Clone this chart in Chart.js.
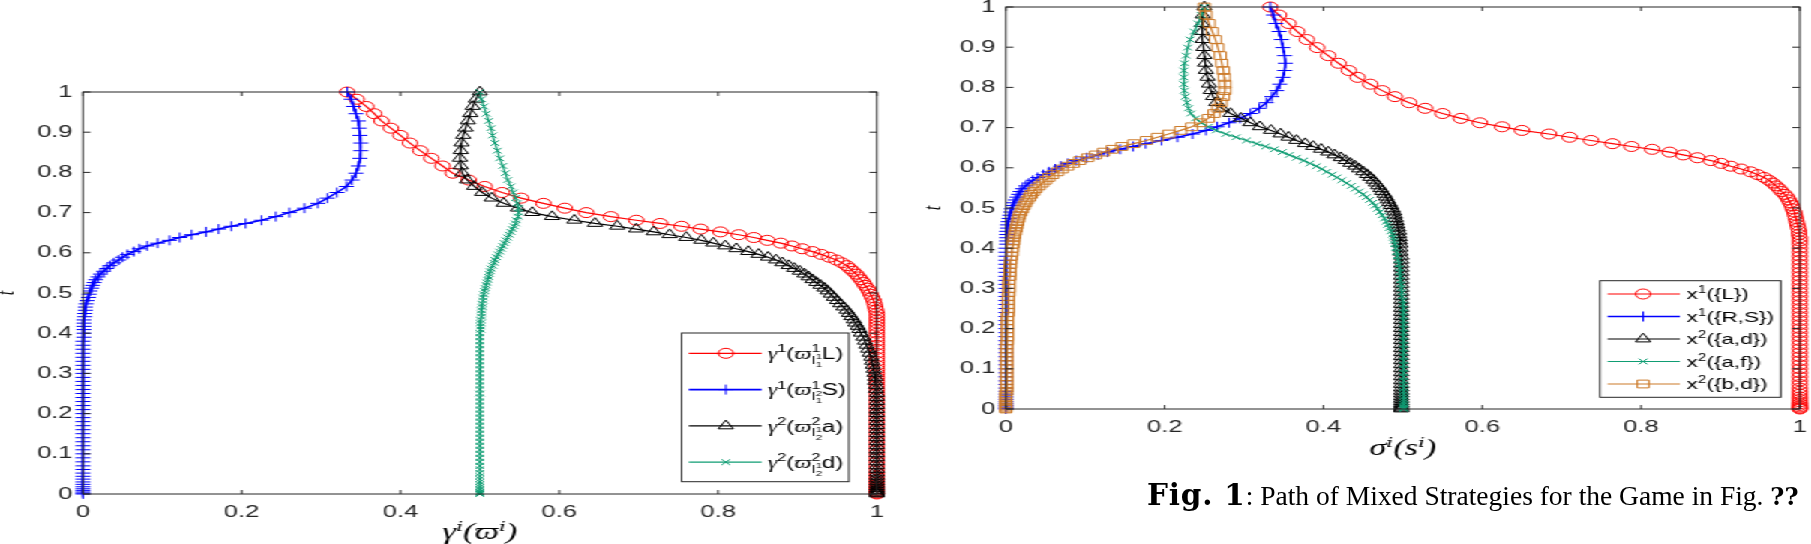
<!DOCTYPE html>
<html>
<head>
<meta charset="utf-8">
<script src="https://cdn.jsdelivr.net/npm/chart.js@4.4.1/dist/chart.umd.min.js"></script>
<style>
  html, body { margin: 0; padding: 0; background: #fff; }
  #page { position: relative; width: 1811px; height: 544px; overflow: hidden; }
  /* the figure panels are stretched horizontally in the original */
  #stretch { position: absolute; left: 0; top: 0; width: 1208px; height: 544px; transform: scaleX(1.5); transform-origin: 0 0; }
  #leftBox { position: absolute; left: 0; top: 80px; width: 600px; height: 464px; }
  #rightBox { position: absolute; left: 615px; top: 0; width: 592px; height: 470px; }
  #caption { position: absolute; left: 1147px; top: 478px; font-family: "Liberation Serif", serif; font-size: 27.5px; line-height: 34px; white-space: nowrap; color: #000; }
  #caption b { font-family: "DejaVu Serif", serif; }
  #caption b.fig { font-size: 29.5px; letter-spacing: 0.8px; }
  #caption b.qq { font-size: 24px; }
</style>
</head>
<body>
<div id="page">
  <div id="stretch">
    <div id="leftBox"><canvas id="leftChart"></canvas></div>
    <div id="rightBox"><canvas id="rightChart"></canvas></div>
  </div>
  <div id="caption"><b class="fig">Fig. 1</b>: Path of Mixed Strategies for the Game in Fig. <b class="qq">??</b></div>
</div>
<script>
// ---- left panel: t values shared by all four paths ----
var tLeft = [
  1.000, 0.982, 0.964, 0.946, 0.928, 0.910, 0.892, 0.873, 0.854, 0.835, 0.816, 0.798, 0.781, 0.765, 0.750, 0.736, 0.723, 0.711, 0.700, 0.690, 0.681, 0.673,
  0.666, 0.659, 0.652, 0.645, 0.638, 0.631, 0.624, 0.617, 0.610, 0.603, 0.596, 0.589, 0.582, 0.575, 0.568, 0.561, 0.554, 0.547, 0.540, 0.533, 0.526, 0.519, 0.512, 0.505,
  0.497, 0.489, 0.481, 0.473, 0.465, 0.457, 0.449, 0.441, 0.433, 0.425, 0.417, 0.409,
  0.40, 0.39, 0.38, 0.37, 0.36, 0.35, 0.34, 0.33, 0.32, 0.31, 0.30,
  0.29, 0.28, 0.27, 0.26, 0.25, 0.24, 0.23, 0.22, 0.21, 0.20, 0.19,
  0.18, 0.17, 0.16, 0.15, 0.14, 0.13, 0.12, 0.11, 0.10, 0.09, 0.08,
  0.070, 0.061, 0.052, 0.044, 0.037, 0.030, 0.024, 0.018, 0.013, 0.009, 0.005, 0.002, 0.000
];
var gammaL = [
  .333, .345, .357, .367, .376, .388, .400, .412, .425, .439, .453, .466, .486, .506, .528, .552, .580, .607, .634, .665, .697, .727,
  .754, .778, .803, .826, .845, .862, .879, .893, .906, .919, .930, .940, .949, .956, .962, .966, .970, .974, .977, .980, .983, .985, .988, .990,
  .992, .994, .996, .997, .998, .999, 1, 1, 1, 1, 1, 1,
  1, 1, 1, 1, 1, 1, 1, 1, 1, 1, 1,
  1, 1, 1, 1, 1, 1, 1, 1, 1, 1, 1,
  1, 1, 1, 1, 1, 1, 1, 1, 1, 1, 1,
  1, 1, 1, 1, 1, 1, 1, 1, 1, 1, 1, 1, 1
];
var gammaS = [
  .333, .338, .341, .344, .347, .348, .349, .350, .350, .349, .347, .344, .339, .332, .320, .308, .296, .279, .260, .243, .225, .205,
  .187, .171, .155, .137, .122, .109, .094, .081, .071, .064, .056, .050, .045, .039, .034, .030, .026, .022, .019, .016, .014, .012, .011, .009,
  .008, .007, .005, .004, .003, .003, .002, .002, .001, .001, .001, .001,
  .001, .001, 0, 0, 0, 0, 0, 0, 0, 0, 0,
  0, 0, 0, 0, 0, 0, 0, 0, 0, 0, 0,
  0, 0, 0, 0, 0, 0, 0, 0, 0, 0, 0,
  0, 0, 0, 0, 0, 0, 0, 0, 0, 0, 0, 0, 0
];
var gammaA = [
  .500, .495, .491, .488, .485, .482, .479, .477, .476, .475, .476, .478, .484, .493, .503, .515, .530, .548, .566, .591, .619, .645,
  .673, .697, .719, .739, .760, .779, .794, .809, .823, .838, .851, .863, .873, .881, .889, .896, .903, .909, .914, .919, .924, .929, .934, .938,
  .942, .946, .950, .954, .958, .962, .965, .968, .971, .973, .976, .978,
  .980, .983, .985, .987, .989, .991, .993, .994, .995, .996, .997,
  .998, .998, .999, .999, 1, 1, 1, 1, 1, 1, 1,
  1, 1, 1, 1, 1, 1, 1, 1, 1, 1, 1,
  1, 1, 1, 1, 1, 1, 1, 1, 1, 1, 1, 1, 1
];
var gammaD = [
  .500, .502, .505, .508, .511, .514, .516, .519, .522, .525, .529, .532, .535, .539, .542, .545, .547, .549, .549, .548, .546, .545,
  .543, .541, .539, .537, .535, .533, .531, .529, .527, .525, .523, .521, .519, .518, .516, .514, .513, .512, .511, .510, .509, .508, .507, .506,
  .505, .504, .504, .503, .503, .502, .502, .502, .501, .501, .501, .501,
  .5, .5, .5, .5, .5, .5, .5, .5, .5, .5, .5,
  .5, .5, .5, .5, .5, .5, .5, .5, .5, .5, .5,
  .5, .5, .5, .5, .5, .5, .5, .5, .5, .5, .5,
  .5, .5, .5, .5, .5, .5, .5, .5, .5, .5, .5, .5, .5
];

// ---- right panel ----
var tRight = [
  1.000, 0.980, 0.959, 0.939, 0.919, 0.899, 0.879, 0.860, 0.842, 0.825, 0.808, 0.792, 0.777, 0.762, 0.748, 0.735, 0.723, 0.712, 0.702, 0.693, 0.684,
  0.676, 0.668, 0.660, 0.653, 0.646, 0.639, 0.632, 0.625, 0.618, 0.611, 0.604, 0.597, 0.590, 0.583, 0.576, 0.569, 0.562, 0.555, 0.548, 0.541, 0.534, 0.527, 0.520, 0.513, 0.506,
  0.498, 0.490, 0.482, 0.474, 0.466, 0.458, 0.450, 0.442, 0.434, 0.426, 0.418, 0.410,
  0.40, 0.39, 0.38, 0.37, 0.36, 0.35, 0.34, 0.33, 0.32, 0.31, 0.30,
  0.29, 0.28, 0.27, 0.26, 0.25, 0.24, 0.23, 0.22, 0.21, 0.20, 0.19,
  0.18, 0.17, 0.16, 0.15, 0.14, 0.13, 0.12, 0.11, 0.10, 0.09, 0.08,
  0.070, 0.061, 0.052, 0.044, 0.037, 0.030, 0.024, 0.018, 0.013, 0.009, 0.005, 0.002, 0.000
];
var xL = [
  .333, .344, .356, .367, .379, .392, .406, .419, .432, .443, .459, .474, .490, .508, .528, .550, .573, .597, .625, .650, .684,
  .710, .737, .764, .788, .814, .836, .853, .871, .888, .901, .913, .926, .938, .947, .955, .961, .966, .970, .974, .977, .981, .984, .986, .988, .990,
  .991, .993, .994, .995, .996, .997, .998, .999, .999, 1, 1, 1,
  1, 1, 1, 1, 1, 1, 1, 1, 1, 1, 1,
  1, 1, 1, 1, 1, 1, 1, 1, 1, 1, 1,
  1, 1, 1, 1, 1, 1, 1, 1, 1, 1, 1,
  1, 1, 1, 1, 1, 1, 1, 1, 1, 1, 1, 1, 1
];
var xRS = [
  .333, .337, .340, .344, .347, .349, .351, .352, .351, .349, .345, .341, .335, .328, .319, .308, .295, .281, .266, .252, .235,
  .216, .196, .176, .160, .144, .128, .116, .102, .089, .078, .069, .062, .054, .047, .040, .034, .029, .025, .021, .018, .016, .014, .012, .010, .009,
  .007, .006, .005, .004, .003, .002, .002, .001, .001, .001, .001, .001,
  0, 0, 0, 0, 0, 0, 0, 0, 0, 0, 0,
  0, 0, 0, 0, 0, 0, 0, 0, 0, 0, 0,
  0, 0, 0, 0, 0, 0, 0, 0, 0, 0, 0,
  0, 0, 0, 0, 0, 0, 0, 0, 0, 0, 0, 0, 0
];
var xAD = [
  .250, .248, .247, .247, .248, .249, .250, .251, .252, .254, .256, .258, .261, .265, .272, .283, .296, .308, .320, .334, .346,
  .356, .366, .377, .387, .397, .406, .414, .422, .428, .434, .440, .445, .450, .455, .459, .463, .466, .469, .472, .474, .477, .479, .481, .483, .485,
  .487, .489, .490, .491, .492, .493, .494, .495, .495, .496, .496, .497,
  .497, .497, .498, .498, .498, .498, .498, .498, .498, .498, .498,
  .498, .498, .498, .498, .498, .498, .498, .498, .498, .498, .498,
  .498, .498, .498, .498, .498, .498, .498, .498, .498, .498, .498,
  .498, .498, .498, .498, .498, .498, .498, .498, .498, .498, .498, .498, .498
];
var xAF = [
  .250, .246, .242, .237, .232, .229, .227, .225, .224, .224, .224, .225, .226, .228, .230, .233, .239, .246, .255, .265, .277,
  .290, .303, .316, .327, .338, .348, .357, .366, .375, .383, .391, .398, .404, .411, .417, .423, .429, .435, .440, .445, .450, .454, .458, .462, .465,
  .468, .471, .474, .477, .479, .481, .483, .485, .487, .488, .489, .490,
  .491, .492, .493, .494, .495, .496, .496, .497, .497, .498, .498,
  .499, .499, .500, .500, .501, .501, .501, .501, .501, .501, .501,
  .501, .501, .501, .501, .501, .501, .501, .501, .501, .501, .501,
  .501, .501, .501, .501, .501, .501, .501, .501, .501, .501, .501, .501, .501
];
var xBD = [
  .250, .252, .256, .260, .264, .267, .270, .272, .274, .275, .276, .276, .274, .271, .267, .262, .255, .245, .234, .220, .205,
  .191, .177, .161, .146, .134, .123, .113, .103, .093, .085, .078, .071, .065, .059, .054, .050, .046, .042, .038, .035, .032, .030, .027, .025, .023,
  .021, .019, .017, .016, .015, .014, .013, .012, .011, .010, .010, .009,
  .008, .008, .007, .006, .006, .005, .005, .005, .004, .004, .004,
  .004, .003, .003, .003, .003, .003, .002, .002, .002, .002, .002,
  .002, .002, .001, .001, .001, .001, .001, .001, .001, .001, .001,
  .001, .001, .001, .001, 0, 0, 0, 0, 0, 0, 0, 0, 0
];

var leftLabels = ["γ^{1}(ϖ^{1}_{I^{1}_{1}}L)", "γ^{1}(ϖ^{1}_{I^{2}_{1}}S)", "γ^{2}(ϖ^{2}_{I^{1}_{2}}a)", "γ^{2}(ϖ^{2}_{I^{1}_{2}}d)"];
var rightLabels = ["x^{1}({L})", "x^{1}({R,S})", "x^{2}({a,d})", "x^{2}({a,f})", "x^{2}({b,d})"];

var SANS = '"Liberation Sans", Arial, sans-serif';
var MATH = '"Liberation Serif", "DejaVu Serif", serif';
var AXIS = "#262626";

function series(label, xs, ts, color, style, r, order, lw) {
  return {
    label: label,
    data: ts.map(function (t, i) { return { x: xs[i], y: t }; }),
    showLine: true,
    borderColor: color,
    borderWidth: lw || 1.2,
    backgroundColor: "rgba(0,0,0,0)",
    pointStyle: style,
    pointRadius: r,
    pointBorderColor: color,
    pointBackgroundColor: "rgba(0,0,0,0)",
    pointBorderWidth: 1,
    clip: false,
    order: order,
  };
}

// tiny parser for x^{..}_{..} labels
function parseTex(s) {
  var out = [];
  var i = 0;
  while (i < s.length) {
    var c = s[i];
    if ((c === "^" || c === "_") && s[i + 1] === "{") {
      var depth = 0, j = i + 1;
      for (; j < s.length; j++) {
        if (s[j] === "{") depth++;
        else if (s[j] === "}" && --depth === 0) break;
      }
      if (!out.length) out.push({ ch: "" });
      out[out.length - 1][c === "^" ? "sup" : "sub"] = parseTex(s.slice(i + 2, j));
      i = j + 1;
    } else {
      out.push({ ch: c });
      i++;
    }
  }
  return out;
}

function drawTex(ctx, items, x, y, size) {
  items.forEach(function (it) {
    ctx.font = /[\u0370-\u03FF]/.test(it.ch) ? "italic " + size + "px " + MATH : size + "px " + SANS;
    ctx.fillText(it.ch, x, y);
    x += ctx.measureText(it.ch).width;
    var w = 0;
    if (it.sup) w = Math.max(w, drawTex(ctx, it.sup, x, y - size * 0.42, size * 0.68) - x);
    if (it.sub) w = Math.max(w, drawTex(ctx, it.sub, x, y + size * 0.3, size * 0.68) - x);
    x += w;
  });
  return x;
}

// box round the plot with inward ticks on all four sides
var axisBox = {
  id: "axisBox",
  afterDatasetsDraw: function (chart) {
    var ctx = chart.ctx, a = chart.chartArea, sx = chart.scales.x, sy = chart.scales.y;
    ctx.save();
    ctx.strokeStyle = AXIS;
    ctx.lineWidth = 1;
    ctx.strokeRect(a.left, a.top, a.right - a.left, a.bottom - a.top);
    ctx.beginPath();
    sx.ticks.forEach(function (t) {
      var px = sx.getPixelForValue(t.value);
      ctx.moveTo(px, a.bottom); ctx.lineTo(px, a.bottom - 4);
      ctx.moveTo(px, a.top); ctx.lineTo(px, a.top + 4);
    });
    sy.ticks.forEach(function (t) {
      var py = sy.getPixelForValue(t.value);
      ctx.moveTo(a.left, py); ctx.lineTo(a.left + 5, py);
      ctx.moveTo(a.right, py); ctx.lineTo(a.right - 5, py);
    });
    ctx.stroke();
    ctx.restore();
  },
};

function texLegend(cfg) {
  return {
    id: "texLegend",
    afterDraw: function (chart) {
      var ctx = chart.ctx, a = chart.chartArea;
      var bx = a.right - cfg.right - cfg.width, by = a.bottom - cfg.bottom - cfg.height;
      ctx.save();
      ctx.fillStyle = "#fff";
      ctx.fillRect(bx, by, cfg.width, cfg.height);
      ctx.strokeStyle = AXIS;
      ctx.lineWidth = 1;
      ctx.strokeRect(bx, by, cfg.width, cfg.height);
      ctx.textAlign = "left";
      ctx.textBaseline = "alphabetic";
      chart.data.datasets.forEach(function (d, i) {
        var y = by + cfg.first + i * cfg.step;
        ctx.strokeStyle = d.borderColor;
        ctx.lineWidth = d.borderWidth;
        ctx.beginPath();
        ctx.moveTo(bx + cfg.lineFrom, y);
        ctx.lineTo(bx + cfg.lineTo, y);
        ctx.stroke();
        ctx.fillStyle = "rgba(0,0,0,0)";
        ctx.strokeStyle = d.pointBorderColor;
        ctx.lineWidth = 1;
        Chart.helpers.drawPoint(ctx, { pointStyle: d.pointStyle, radius: d.pointRadius, rotation: 0, borderWidth: 1 }, bx + cfg.marker, y);
        ctx.fillStyle = "#000";
        drawTex(ctx, parseTex(cfg.labels[i]), bx + cfg.text, y + cfg.size * 0.36, cfg.size);
      });
      ctx.restore();
    },
  };
}

function tickText(v) {
  return String(Math.round(v * 10) / 10);
}

function buildChart(id, o) {
  return new Chart(document.getElementById(id), {
    type: "scatter",
    data: { datasets: o.datasets },
    options: {
      responsive: true,
      maintainAspectRatio: false,
      animation: false,
      layout: { padding: o.padding },
      plugins: { legend: { display: false }, tooltip: { enabled: false } },
      scales: {
        x: {
          type: "linear", min: 0, max: 1,
          ticks: { stepSize: 0.2, padding: 8, maxRotation: 0, color: AXIS, font: { family: SANS, size: 17 }, callback: tickText },
          grid: { display: false, drawTicks: false },
          border: { display: false },
          title: { display: true, text: o.xTitle, color: "#000", font: { family: MATH, style: "italic", size: 23, lineHeight: 1 }, padding: { top: 0, bottom: o.xTitlePad } },
          afterFit: function (s) { s.height = o.xAxisHeight; s.paddingLeft = 0; s.paddingRight = 0; },
        },
        y: {
          type: "linear", min: 0, max: 1,
          ticks: { stepSize: 0.1, padding: 7, color: AXIS, font: { family: SANS, size: 17 }, callback: tickText },
          grid: { display: false, drawTicks: false },
          border: { display: false },
          title: { display: true, text: "t", color: "#000", font: { family: MATH, style: "italic", size: 16, lineHeight: o.tLine }, padding: 0 },
          afterFit: function (s) { s.width = o.yAxisWidth; s.paddingTop = 0; s.paddingBottom = 0; },
        },
      },
    },
    plugins: [axisBox, texLegend(o.legend)],
  });
}

buildChart("leftChart", {
  datasets: [
    series("γ1 L", gammaL, tLeft, "#ff0000", "circle", 5, 4),
    series("γ1 S", gammaS, tLeft, "#0000ff", "cross", 5, 3, 1.6),
    series("γ2 a", gammaA, tLeft, "#000000", "triangle", 5.8, 2),
    series("γ2 d", gammaD, tLeft, "#0f9d73", "crossRot", 4, 1),
  ],
  padding: { left: 0, right: 15.3, top: 12, bottom: 0 },
  xTitle: "γⁱ(ϖⁱ)",
  xTitlePad: 0,
  xAxisHeight: 50,
  yAxisWidth: 55.3,
  tLine: 0.6,
  legend: { right: 18.7, bottom: 12.3, width: 111.5, height: 148.7, first: 20.3, step: 36.3, lineFrom: 4.8, lineTo: 53.3, marker: 29.5, text: 57.5, size: 16, labels: leftLabels },
});

buildChart("rightChart", {
  datasets: [
    series("x1 L", xL, tRight, "#ff0000", "circle", 5, 5),
    series("x1 RS", xRS, tRight, "#0000ff", "cross", 5, 4, 1.6),
    series("x2 ad", xAD, tRight, "#000000", "triangle", 5.8, 3),
    series("x2 af", xAF, tRight, "#0f9d73", "crossRot", 4, 2),
    series("x2 bd", xBD, tRight, "#cc7a29", "rect", 5.5, 1),
  ],
  padding: { left: 0, right: 7, top: 7, bottom: 0 },
  xTitle: "σⁱ(sⁱ)",
  xTitlePad: 9.5,
  xAxisHeight: 61,
  yAxisWidth: 55.7,
  tLine: 1.0,
  legend: { right: 12.7, bottom: 11.7, width: 120.6, height: 116.6, first: 13.3, step: 22.5, lineFrom: 5.1, lineTo: 53.3, marker: 28.8, text: 57.8, size: 15, labels: rightLabels },
});

[gammaL, gammaS, gammaA, gammaD].forEach(function (a, i) { if (a.length !== tLeft.length) throw new Error("left series " + i + " length " + a.length + " vs " + tLeft.length); });
[xL, xRS, xAD, xAF, xBD].forEach(function (a, i) { if (a.length !== tRight.length) throw new Error("right series " + i + " length " + a.length + " vs " + tRight.length); });
</script>
</body>
</html>
